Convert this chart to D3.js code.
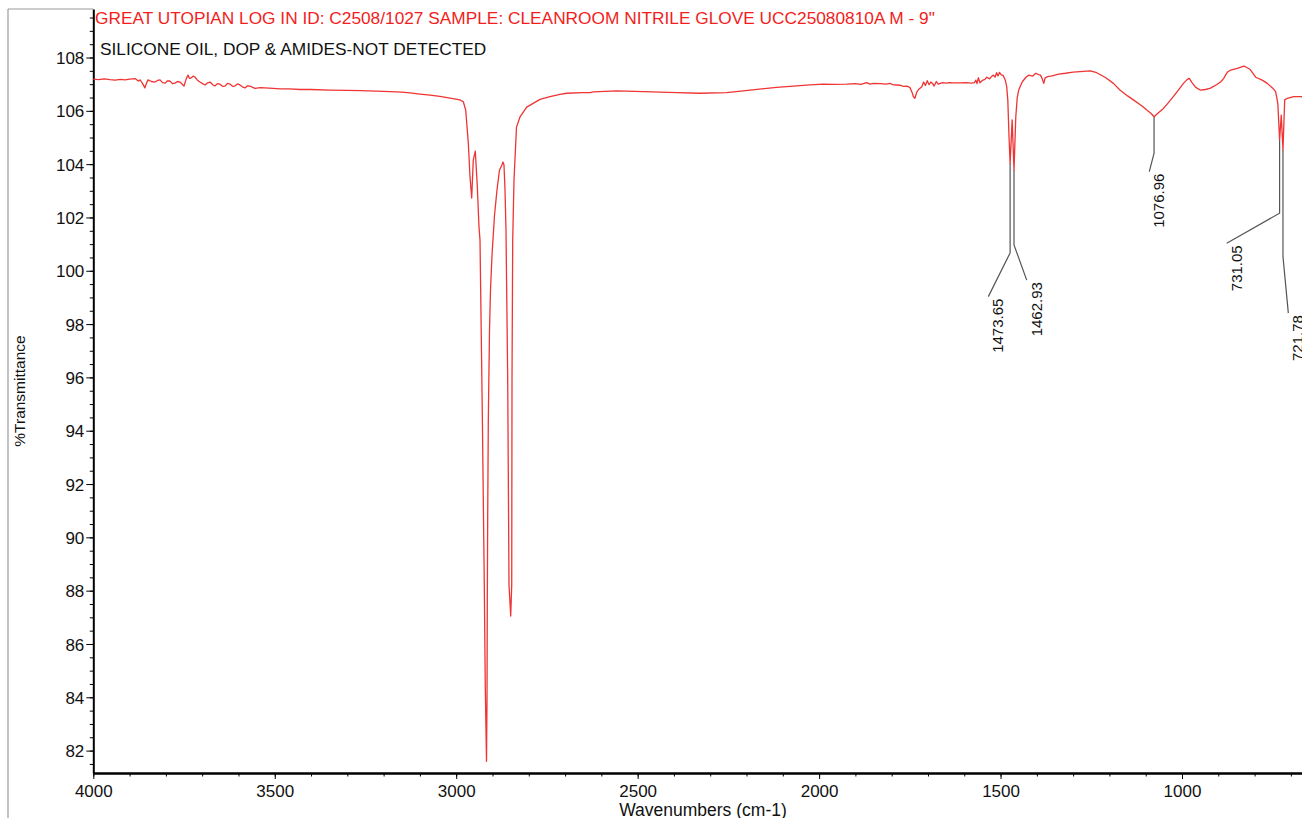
<!DOCTYPE html>
<html>
<head>
<meta charset="utf-8">
<script src="https://cdn.jsdelivr.net/npm/d3@7"></script>
<style>
  html, body { margin: 0; padding: 0; background: #fff; }
  svg { display: block; font-family: "Liberation Sans", Arial, sans-serif; }
</style>
</head>
<body>
<svg id="chart" width="1302" height="818"></svg>
<script>
// spectrum (cm-1, %T)
var wavenumbers = [
  4000, 3985, 3970, 3954, 3940, 3925, 3913, 3900, 3885, 3876, 3871, 3864, 3858, 3853, 3849,
  3840, 3830, 3823, 3816, 3809, 3802, 3796, 3789, 3782, 3775, 3768, 3761, 3755, 3750, 3744,
  3739, 3735, 3731, 3725, 3720, 3713, 3706, 3699, 3692, 3685, 3678, 3671, 3665, 3658, 3651,
  3644, 3637, 3630, 3623, 3616, 3610, 3603, 3596, 3589, 3582, 3575, 3568, 3561, 3554, 3540,
  3527, 3505, 3485, 3460, 3430, 3400, 3348, 3300, 3265, 3220, 3182, 3150, 3127, 3100, 3072,
  3045, 3017, 2990, 2980.4, 2973.8, 2966.6, 2962, 2957.3, 2952.9, 2947.4, 2941.8, 2937.2, 2934.4,
  2928.1, 2922.6, 2919.8, 2916.5, 2915.1, 2914.3, 2913.2, 2911.5, 2908.2, 2905.5, 2901.3, 2894.4,
  2887.6, 2880.7, 2875.2, 2871, 2868.3, 2865.5, 2862.8, 2860.6, 2858.1, 2854.5, 2849.8, 2847,
  2846.2, 2844.3, 2840.7, 2833.8, 2824.2, 2805.7, 2769, 2741.5, 2714, 2695.5, 2650.6, 2631, 2622,
  2558, 2484, 2392, 2328, 2255, 2209, 2117, 2025, 1988, 1960, 1924, 1900, 1885, 1869, 1860, 1850,
  1832, 1815, 1805, 1795, 1777, 1768, 1758, 1750, 1744, 1740, 1736, 1731, 1726, 1717, 1712, 1707,
  1702, 1697, 1692, 1687, 1683, 1677, 1672, 1666, 1660, 1650, 1640, 1630, 1612, 1595, 1580, 1572,
  1568, 1565, 1561, 1557, 1550, 1543, 1538, 1530, 1524, 1520, 1515, 1511, 1507, 1503, 1498, 1493,
  1487, 1483, 1480, 1477, 1473.65, 1468, 1462.93, 1458, 1454, 1450, 1440, 1430, 1422, 1412, 1403,
  1395, 1390, 1385, 1381, 1377, 1370, 1358, 1340, 1321, 1300, 1281, 1253, 1235, 1210, 1189, 1171,
  1150, 1134, 1110, 1097, 1085, 1076.96, 1065, 1051, 1038, 1024, 1010, 996, 986, 980, 972, 962,
  950, 936, 923, 905, 893, 885, 875, 866, 848, 829, 812, 797, 779, 765, 750, 742, 736, 731.05,
  726.5, 721.78, 717, 710, 692, 672, 655
];
var transmittance = [
  107.19, 107.17, 107.20, 107.17, 107.15, 107.18, 107.16, 107.19, 107.21, 107.12, 107.16, 107.02, 106.86, 107.05, 107.16,
  107.10, 107.08, 107.14, 107.16, 107.06, 107.04, 107.12, 107.12, 107.02, 107.04, 107.10, 107.08, 107.00, 106.93, 107.20,
  107.34, 107.22, 107.23, 107.30, 107.27, 107.15, 107.08, 107.02, 106.97, 107.05, 107.08, 106.98, 106.93, 107.02, 107.00,
  106.92, 106.93, 107.03, 107.00, 106.92, 106.93, 107.01, 106.97, 106.90, 106.86, 106.94, 106.93, 106.88, 106.84, 106.87,
  106.86, 106.84, 106.82, 106.82, 106.80, 106.80, 106.78, 106.77, 106.76, 106.74, 106.72, 106.70, 106.67, 106.63, 106.59,
  106.54, 106.48, 106.41, 106.34, 106.03, 104.79, 103.53, 102.73, 104.16, 104.49, 103.15, 101.65, 101.15,
  94.70, 88.21, 84.35, 81.60, 83.90, 87.65, 90.80, 94.40, 97.78, 99.28, 100.59, 102.09,
  103.03, 103.78, 103.93, 104.08, 103.97, 103.03, 101.53, 98.90, 95.98, 88.21, 87.05, 88.21,
  95.98, 101.15, 103.41, 105.39, 105.77, 106.14, 106.43, 106.53, 106.62, 106.66, 106.68, 106.68, 106.71,
  106.75, 106.72, 106.68, 106.66, 106.68, 106.75, 106.88, 106.97, 107.00, 106.99, 107.00, 107.02, 106.99, 107.06, 107.00, 107.03,
  107.02, 107.00, 107.03, 106.97, 106.96, 106.92, 106.93, 106.88, 106.70, 106.53, 106.47, 106.70, 106.80, 106.90, 107.08, 106.95,
  107.13, 106.98, 107.08, 107.02, 106.93, 107.10, 107.00, 107.03, 107.06, 107.04, 107.06, 107.05, 107.05, 107.06, 107.04, 107.06,
  107.15, 107.02, 107.24, 107.05, 107.14, 107.18, 107.26, 107.20, 107.30, 107.34, 107.27, 107.43, 107.31, 107.44, 107.35, 107.33,
  107.16, 106.90, 106.41, 105.16, 104.03, 105.66, 103.78, 105.78, 106.50, 106.78, 107.09, 107.26, 107.34, 107.30, 107.41,
  107.36, 107.34, 107.20, 107.03, 107.24, 107.28, 107.31, 107.38, 107.41, 107.45, 107.47, 107.50, 107.43, 107.24, 107.03, 106.78,
  106.56, 106.41, 106.18, 106.03, 105.90, 105.78, 105.93, 106.09, 106.30, 106.53, 106.78, 107.03, 107.17, 107.22, 107.05, 106.88,
  106.78, 106.80, 106.84, 106.98, 107.09, 107.22, 107.45, 107.53, 107.59, 107.68, 107.55, 107.26, 107.15, 107.03, 106.85, 106.72, 106.28, 104.91,
  105.84, 104.53, 106.41, 106.47, 106.53, 106.53, 106.52
];

var peakWavenumbers = [1473.65, 1462.93, 1076.96, 731.05, 721.78];
var peakLabels = ['1473.65', '1462.93', '1076.96', '731.05', '721.78'];

var xTickValues = [4000, 3500, 3000, 2500, 2000, 1500, 1000];
var yTickValues = [82, 84, 86, 88, 90, 92, 94, 96, 98, 100, 102, 104, 106, 108];

var titleText = 'GREAT UTOPIAN LOG IN ID: C2508/1027 SAMPLE: CLEANROOM NITRILE GLOVE UCC25080810A M - 9"';
var noteText = 'SILICONE OIL, DOP & AMIDES-NOT DETECTED';

// where each peak's leader bends and ends (layout, not data)
var labelLayout = [
  { kneeT: 100.67, endWn: 1533.7, endT: 99.03 },
  { kneeT: 100.97, endWn: 1427.9, endT: 99.65 },
  { kneeT: 104.41, endWn: 1090.1, endT: 103.72 },
  { kneeT: 102.16, endWn: 876.8,  endT: 101.03 },
  { kneeT: 100.53, endWn: 707,    endT: 98.41 }
];

var spectrum = wavenumbers.map(function(w, i) { return { wn: w, t: transmittance[i] }; });

function transmittanceAt(wn) {
  for (var i = 0; i < spectrum.length; i++) {
    if (spectrum[i].wn === wn) return spectrum[i].t;
  }
  return null;
}

var svg = d3.select('#chart');

var plotLeft = 93.3, plotTop = 9, plotBottom = 773;

var x = d3.scaleLinear().domain([4000, 650]).range([plotLeft, plotLeft + 3350 * 0.3629]);
var y = d3.scaleLinear().domain([81.16, 109.82]).range([plotBottom, plotTop]);

// outer frame bits
svg.append('line')
  .attr('x1', 8).attr('x2', 8).attr('y1', plotTop).attr('y2', 818)
  .attr('stroke', '#9a9a9a').attr('stroke-width', 1.2);
svg.append('line')
  .attr('x1', 8).attr('x2', plotLeft).attr('y1', plotTop).attr('y2', plotTop)
  .attr('stroke', '#9a9a9a').attr('stroke-width', 1.2);

// axes
var yMinor = svg.append('g')
  .attr('transform', 'translate(' + plotLeft + ',0)')
  .call(d3.axisLeft(y).tickValues(d3.range(81.5, 109.6, 0.5)).tickSize(3.5).tickFormat(''));
yMinor.select('.domain').remove();

var yAxis = svg.append('g')
  .attr('transform', 'translate(' + plotLeft + ',0)')
  .call(d3.axisLeft(y).tickValues(yTickValues).tickSize(7).tickPadding(2).tickSizeOuter(0));
yAxis.select('.domain').attr('stroke-width', 2);
yAxis.selectAll('text')
  .style('font-size', '17px')
  .attr('fill', '#111')
  .attr('dy', '0.36em');

var xMinor = svg.append('g')
  .attr('transform', 'translate(0,' + plotBottom + ')')
  .call(d3.axisBottom(x).tickValues(d3.range(4000, 650, -100)).tickSize(3.5).tickFormat(''));
xMinor.select('.domain').remove();

var xAxis = svg.append('g')
  .attr('transform', 'translate(0,' + plotBottom + ')')
  .call(d3.axisBottom(x).tickValues(xTickValues).tickFormat(d3.format('d'))
    .tickSize(6).tickPadding(6).tickSizeOuter(0));
xAxis.select('.domain').attr('stroke-width', 2.5);
xAxis.selectAll('text')
  .style('font-size', '17px')
  .attr('fill', '#111');

// axis titles
svg.append('text')
  .attr('x', 703).attr('y', 816)
  .attr('text-anchor', 'middle')
  .style('font-size', '17.5px')
  .attr('fill', '#111')
  .text('Wavenumbers (cm-1)');

svg.append('text')
  .attr('transform', 'translate(25,391) rotate(-90)')
  .attr('text-anchor', 'middle')
  .style('font-size', '15.5px')
  .attr('fill', '#111')
  .text('%Transmittance');

// header text
svg.append('text')
  .attr('x', 95).attr('y', 24)
  .style('font-size', '17.3px')
  .attr('fill', '#f21d1d')
  .text(titleText);

svg.append('text')
  .attr('x', 100).attr('y', 55)
  .style('font-size', '17.3px')
  .attr('fill', '#111')
  .text(noteText);

// peak leaders + labels
var peaks = svg.append('g').attr('class', 'peaks');
peakWavenumbers.forEach(function(wn, i) {
  var lay = labelLayout[i];
  var px = x(wn), py = y(transmittanceAt(wn));
  var ky = y(lay.kneeT);
  var ex = x(lay.endWn), ey = y(lay.endT);
  peaks.append('polyline')
    .attr('points', [[px, py], [px, ky], [ex, ey]].map(function(p) { return p.join(','); }).join(' '))
    .attr('fill', 'none')
    .attr('stroke', '#555')
    .attr('stroke-width', 1.2);
  peaks.append('text')
    .attr('transform', 'translate(' + (ex + 15) + ',' + (ey + 2) + ') rotate(-90)')
    .attr('text-anchor', 'end')
    .style('font-size', '15px')
    .attr('fill', '#111')
    .text(peakLabels[i]);
});

// the spectrum
var line = d3.line()
  .x(function(d) { return x(d.wn); })
  .y(function(d) { return y(d.t); });

svg.append('path')
  .datum(spectrum)
  .attr('d', line)
  .attr('fill', 'none')
  .attr('stroke', '#ef3434')
  .attr('stroke-width', 1.3)
  .attr('stroke-linejoin', 'round');
</script>
</body>
</html>
